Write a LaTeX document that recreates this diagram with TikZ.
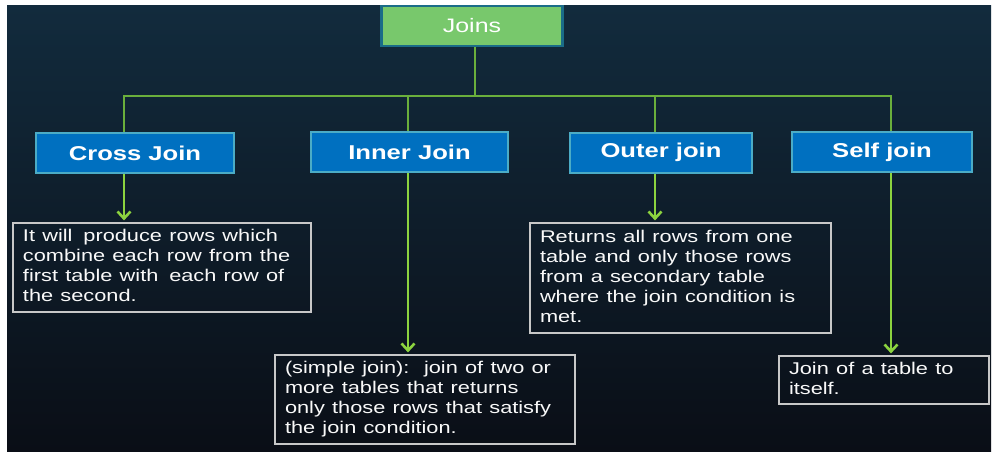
\documentclass[tikz,border=0pt]{standalone}
\usepackage{fontspec}
\setmainfont{Liberation Sans}
\usetikzlibrary{arrows.meta}

\definecolor{panelTop}{RGB}{18,43,61}
\definecolor{panelBottom}{RGB}{10,14,22}
\definecolor{rootFill}{RGB}{120,200,108}
\definecolor{rootEdge}{RGB}{26,108,136}
\definecolor{headFill}{RGB}{0,112,192}
\definecolor{headEdge}{RGB}{75,172,198}
\definecolor{treeGreen}{RGB}{106,175,60}
\definecolor{arrowGreen}{RGB}{140,211,63}
\definecolor{noteEdge}{RGB}{200,200,200}

% wide-set lettering used throughout the chart
\newcommand{\hstretch}[1]{\scalebox{1.28}[1]{#1}}
\newcommand{\notelines}[1]{\hstretch{\begin{tabular}{@{}l@{}}#1\end{tabular}}}

\tikzset{
  rootbox/.style={draw=rootEdge, line width=2.4pt, fill=rootFill, text=white,
    minimum width=181pt, minimum height=40pt, inner sep=0pt,
    font=\fontsize{19.5}{22}\selectfont},
  headbox/.style={draw=headEdge, line width=2pt, fill=headFill, text=white,
    minimum height=40pt, inner sep=0pt,
    font=\fontsize{20}{24}\selectfont\bfseries},
  notebox/.style={draw=noteEdge, line width=1.2pt, text=white!95!gray,
    align=left, inner xsep=10pt, inner ysep=0pt,
    font=\fontsize{17}{20}\selectfont},
  link/.style={draw=treeGreen, line width=2.4pt},
  pointer/.style={draw=arrowGreen, line width=2.6pt,
    -{Straight Barb[length=7pt,width=13pt]}},
}

\begin{document}
\begin{tikzpicture}[x=1pt,y=-1pt]
  % page and dark panel
  \useasboundingbox (0,0) rectangle (993,452);
  \fill[white] (0,0) rectangle (993,452);
  \shade[top color=panelTop, bottom color=panelBottom] (7,6) rectangle (991,452);

  % root
  \node[rootbox] (joins) at (472,26) {\hstretch{Joins}};

  % categories
  \node[headbox, minimum width=198pt] (cross) at (135,153) {\hstretch{Cross Join}};
  \node[headbox, minimum width=197pt] (inner) at (409.5,152) {\hstretch{Inner Join}};
  \node[headbox, minimum width=182pt] (outer) at (661,152.5) {\hstretch{Outer join}};
  \node[headbox, minimum width=180pt] (self)  at (882,152) {\hstretch{Self join}};

  % descriptions
  \node[notebox, text width=278pt, minimum height=89pt] (crossnote) at (162,267.5)
    {\notelines{It will\, produce rows which\\combine each row from the\\first table with\, each row of\\the second.}};
  \node[notebox, text width=280pt, minimum height=89pt] (innernote) at (425,399.5)
    {\notelines{(simple join):\, join of two or\\more tables that returns\\only those rows that satisfy\\the join condition.}};
  \node[notebox, text width=281pt, minimum height=110pt] (outernote) at (680.5,278)
    {\notelines{Returns all rows from one\\table and only those rows\\from a secondary table\\where the join condition is\\met.}};
  \node[notebox, text width=190pt, minimum height=48pt] (selfnote) at (884,380)
    {\notelines{Join of a table to\\itself.}};

  % tree connectors
  \coordinate (hub) at (474.7,96);
  \draw[link] ([xshift=2.7pt]joins.south) -- (hub);
  \draw[link] ([xshift=-11pt]cross.north) |- (hub);
  \draw[link] ([xshift=-1.5pt]inner.north) |- (hub);
  \draw[link] ([xshift=-6pt]outer.north) |- (hub);
  \draw[link] ([xshift=9pt]self.north) |- (hub);

  % arrows to descriptions
  \draw[pointer] ([xshift=-11pt]cross.south) -- ([xshift=-11pt,yshift=2pt]cross.south |- crossnote.north);
  \draw[pointer] ([xshift=-1.5pt]inner.south) -- ([xshift=-1.5pt,yshift=2pt]inner.south |- innernote.north);
  \draw[pointer] ([xshift=-6pt]outer.south) -- ([xshift=-6pt,yshift=2pt]outer.south |- outernote.north);
  \draw[pointer] ([xshift=9pt]self.south) -- ([xshift=9pt,yshift=2pt]self.south |- selfnote.north);
\end{tikzpicture}
\end{document}
